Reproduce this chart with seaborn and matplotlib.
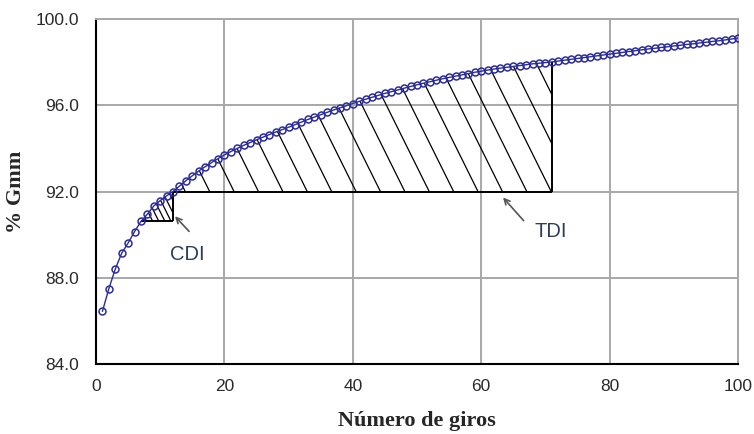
import numpy as np
import pandas as pd
import matplotlib
matplotlib.use("Agg")
import matplotlib.pyplot as plt
from matplotlib.collections import LineCollection
import seaborn as sns

# data
giros = list(range(1, 101))
gmm = [86.44, 87.49, 88.40, 89.14, 89.61, 90.14, 90.61, 90.95, 91.33, 91.58,
       91.80, 92.00, 92.25, 92.50, 92.73, 92.95, 93.15, 93.34, 93.52, 93.70,
       93.85, 94.00, 94.14, 94.27, 94.40, 94.52, 94.64, 94.76, 94.87, 94.98,
       95.10, 95.22, 95.34, 95.45, 95.56, 95.67, 95.78, 95.88, 95.98, 96.08,
       96.18, 96.28, 96.37, 96.46, 96.55, 96.63, 96.71, 96.79, 96.87, 96.95,
       97.02, 97.09, 97.16, 97.23, 97.29, 97.35, 97.41, 97.47, 97.53, 97.58,
       97.63, 97.68, 97.72, 97.76, 97.80, 97.84, 97.88, 97.92, 97.95, 97.98,
       98.01, 98.05, 98.09, 98.13, 98.17, 98.21, 98.25, 98.29, 98.33, 98.37,
       98.41, 98.45, 98.49, 98.53, 98.57, 98.61, 98.64, 98.68, 98.71, 98.75,
       98.78, 98.82, 98.85, 98.89, 98.92, 98.96, 98.99, 99.03, 99.07, 99.12]

cdi_start, cdi_end = 7, 12
tdi_start, tdi_end = 12, 71
gmm_92 = 92.0

x_ticks = [0, 20, 40, 60, 80, 100]
y_ticks = [84, 88, 92, 96, 100]

# annotation positions (head, tail, text)
cdi_arrow = [(12.3, 90.85), (14.5, 90.15)]
cdi_text = (14.2, 89.1)
tdi_arrow = [(63.4, 91.72), (66.6, 90.65)]
tdi_text = (70.8, 90.15)

df = pd.DataFrame({"giros": giros, "gmm": gmm})

sns.set_style("white")
plt.rcParams["font.family"] = ["Liberation Sans", "DejaVu Sans"]

fig = plt.figure(figsize=(7.54, 4.34), dpi=100)
ax = fig.add_axes([96 / 754, 1 - 364 / 434, 642 / 754, 345 / 434])

navy = "#2c2c9c"


def hatch_region(ax, xs, base, top, step, slope, first):
    poly = ax.fill_between(xs, base, top, facecolor="none", edgecolor="none")
    segs = []
    for x0 in np.arange(first, xs[-1] + 12, step):
        segs.append([(x0 - 15, base + 15 * slope), (x0, base)])
    lc = LineCollection(segs, colors="black", linewidths=0.9, zorder=2)
    ax.add_collection(lc)
    lc.set_clip_path(poly.get_paths()[0], ax.transData)


xs = np.array(giros)
ys = np.array(gmm)

# CDI
m = (xs >= cdi_start) & (xs <= cdi_end)
cdi_base = ys[xs == cdi_start][0]
hatch_region(ax, xs[m], cdi_base, ys[m], 0.95, 0.6, cdi_start + 0.9)
ax.hlines(cdi_base, cdi_start, cdi_end, color="black", lw=1.4, zorder=3)
ax.vlines(cdi_end, cdi_base, gmm_92, color="black", lw=1.4, zorder=3)

# TDI
m = (xs >= tdi_start) & (xs <= tdi_end)
hatch_region(ax, xs[m], gmm_92, ys[m], 3.8, 0.6, tdi_start + 1.9)
ax.hlines(gmm_92, tdi_start, tdi_end, color="black", lw=1.4, zorder=3)
ax.vlines(tdi_end, gmm_92, ys[xs == tdi_end][0], color="black", lw=1.4, zorder=3)

sns.lineplot(data=df, x="giros", y="gmm", ax=ax, color=navy, lw=1.0,
             marker="o", markersize=5, markerfacecolor="none",
             markeredgecolor=navy, markeredgewidth=1.1, zorder=4)

arrow_kw = dict(arrowstyle="->", color="#555555", lw=1.2, shrinkA=0, shrinkB=0)
ax.annotate("", xy=cdi_arrow[0], xytext=cdi_arrow[1], arrowprops=arrow_kw)
ax.annotate("", xy=tdi_arrow[0], xytext=tdi_arrow[1], arrowprops=arrow_kw)
ax.text(*cdi_text, "CDI", fontsize=14.5, color="#2b3f5c", ha="center", va="center")
ax.text(*tdi_text, "TDI", fontsize=14.5, color="#2b3f5c", ha="center", va="center")

ax.set_xlim(0, 100)
ax.set_ylim(84, 100)
ax.set_xticks(x_ticks)
ax.set_xticks(np.arange(0, 101, 4), minor=True)
ax.set_yticks(y_ticks)
ax.set_yticks(np.arange(84, 101, 2), minor=True)
ax.set_yticklabels([f"{v:.1f}" for v in y_ticks])

ax.set_axisbelow(True)
ax.grid(which="major", color="#a8a8a8", lw=1.4)
ax.tick_params(which="both", direction="in", color="black", labelcolor="#2a2a2a",
               labelsize=12.5)
ax.tick_params(which="major", length=0)
ax.tick_params(which="minor", length=3.5, width=1.1)
ax.tick_params(axis="x", pad=11)
ax.tick_params(axis="y", pad=12)

for s in ["left", "bottom"]:
    ax.spines[s].set_color("black")
    ax.spines[s].set_linewidth(1.5)
for s in ["top", "right"]:
    ax.spines[s].set_color("#a8a8a8")
    ax.spines[s].set_linewidth(1.4)

serif = ["Liberation Serif", "DejaVu Serif"]
ax.set_xlabel("Número de giros", fontsize=16, fontweight="bold", family=serif, labelpad=12)
ax.set_ylabel("% Gmm", fontsize=16, fontweight="bold", family=serif)
ax.yaxis.set_label_coords((16 - 96) / 642, 0.5)
ax.yaxis.label.set_verticalalignment("center")

fig.savefig("out.png", dpi=100)
